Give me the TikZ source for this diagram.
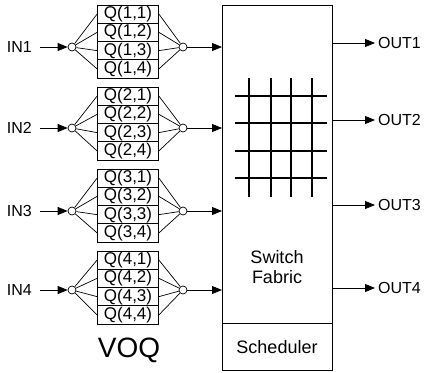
\documentclass[tikz,border=0pt]{standalone}
\usepackage{fontspec}
\setmainfont{Liberation Sans}
\usetikzlibrary{arrows.meta}
\begin{document}
\begin{tikzpicture}[x=1pt,y=-1pt,
  qbox/.style={draw, line width=0.9pt, minimum width=61pt, minimum height=18.25pt, inner sep=0pt, font=\fontsize{17}{16}\selectfont},
  junc/.style={circle, draw, fill=white, minimum size=8pt, inner sep=0pt, line width=0.7pt},
  lbl/.style={font=\fontsize{16}{16}\selectfont, inner sep=3pt},
  arr/.style={-{Triangle[length=10pt,width=8pt]}, line width=0.8pt},
  fan/.style={line width=0.7pt},
  big/.style={draw, line width=0.9pt, inner sep=0pt, anchor=north west},
  grid/.style={line width=1.5pt}]
\useasboundingbox (0,0) rectangle (427,372);
% switch fabric and scheduler
\node[big, minimum width=110pt, minimum height=318pt] (sw) at (222,5) {};
\node[big, minimum width=110pt, minimum height=47pt] (sch) at (222,323) {};
\node[font=\fontsize{18}{20}\selectfont] (schtxt) at (277,347) {Scheduler};
\node[font=\fontsize{18}{20}\selectfont, align=center] (sf) at (277,267) {Switch\\Fabric};
% crossbar grid
\foreach \y in {96,123,151,178} \draw[grid] (235,\y) -- (327,\y);
\foreach \x in {249,271,291,312} \draw[grid] (\x,78) -- (\x,197);
% VOQ groups
\foreach \g/\t/\yl in {1/5/47, 2/87/128, 3/169/211, 4/251/290} {
  \foreach \r in {1,...,4} {
    \node[qbox] (q\g\r) at (128,{\t+(\r-0.5)*18.25}) {Q(\g,\r)};
  }
  \node[junc] (ci\g) at (72,\yl) {};
  \node[junc] (co\g) at (183,\yl) {};
  \node[lbl, anchor=east] (in\g) at (35,\yl) {IN\g};
  \draw[arr, shorten <=5pt] (in\g) -- (ci\g);
  \foreach \r in {1,...,4} {
    \draw[fan] (ci\g) -- (q\g\r.west);
    \draw[fan] (q\g\r.east) -- (co\g);
  }
  \draw[arr] (co\g) -- (co\g -| sw.west);
}
% outputs
\foreach \i/\y in {1/43, 2/120, 3/205, 4/288} {
  \node[lbl, anchor=west] (out\i) at (375,\y) {OUT\i};
  \draw[arr] (out\i -| sw.east) -- (out\i.west);
}
\node[font=\fontsize{28}{30}\selectfont] (voq) at (129,350) {VOQ};
\end{tikzpicture}
\end{document}
